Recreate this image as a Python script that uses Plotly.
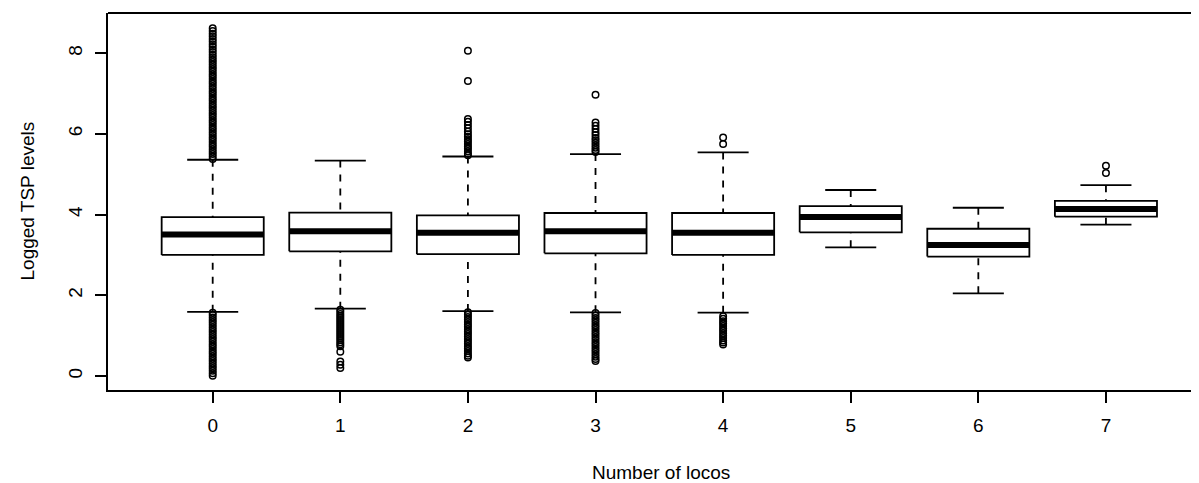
import plotly.graph_objects as go

# ---- data ----
groups = [0, 1, 2, 3, 4, 5, 6, 7]
tick_labels = ["0", "1", "2", "3", "4", "5", "6", "7"]
q1 = [3.00, 3.09, 3.02, 3.04, 3.00, 3.56, 2.96, 3.95]
median = [3.51, 3.59, 3.55, 3.59, 3.55, 3.94, 3.25, 4.14]
q3 = [3.94, 4.05, 3.98, 4.04, 4.04, 4.21, 3.65, 4.34]
lower_whisker = [1.59, 1.67, 1.61, 1.58, 1.57, 3.19, 2.05, 3.75]
upper_whisker = [5.36, 5.34, 5.44, 5.50, 5.54, 4.61, 4.17, 4.73]

out_0 = [5.38, 5.44, 5.50, 5.56, 5.62, 5.68, 5.74, 5.80, 5.86, 5.92, 5.98, 6.04, 6.10,
         6.16, 6.22, 6.28, 6.34, 6.40, 6.46, 6.52, 6.58, 6.64, 6.70, 6.76, 6.82, 6.88,
         6.94, 7.00, 7.06, 7.12, 7.18, 7.24, 7.30, 7.36, 7.42, 7.48, 7.54, 7.60, 7.66,
         7.72, 7.78, 7.84, 7.90, 7.96, 8.03, 8.09, 8.16, 8.22, 8.29, 8.35, 8.42, 8.48,
         8.55, 8.62,
         1.57, 1.51, 1.45, 1.39, 1.33, 1.27, 1.21, 1.15, 1.09, 1.03, 0.97, 0.91, 0.85,
         0.79, 0.73, 0.67, 0.61, 0.55, 0.49, 0.43, 0.37, 0.31, 0.25, 0.19, 0.13, 0.07, 0.01]
out_1 = [1.64, 1.59, 1.54, 1.49, 1.44, 1.39, 1.34, 1.29, 1.24, 1.19, 1.14, 1.09, 1.04,
         0.99, 0.94, 0.89, 0.84, 0.79, 0.74, 0.60, 0.36, 0.28, 0.20]
out_2 = [8.06, 7.31, 6.37, 6.30, 6.22, 6.14, 6.06, 5.99, 5.93, 5.87, 5.81, 5.75, 5.69,
         5.63, 5.57, 5.51, 5.47,
         1.58, 1.52, 1.46, 1.40, 1.34, 1.28, 1.22, 1.16, 1.10, 1.04, 0.98, 0.92, 0.86,
         0.80, 0.74, 0.68, 0.62, 0.56, 0.50, 0.46]
out_3 = [6.97, 6.28, 6.20, 6.12, 6.04, 5.97, 5.90, 5.84, 5.78, 5.72, 5.66, 5.60, 5.55,
         1.56, 1.50, 1.44, 1.38, 1.32, 1.26, 1.20, 1.14, 1.08, 1.02, 0.96, 0.90, 0.84,
         0.78, 0.72, 0.66, 0.60, 0.54, 0.48, 0.42, 0.37]
out_4 = [5.91, 5.75, 1.48, 1.42, 1.36, 1.30, 1.24, 1.18, 1.12, 1.06, 1.00, 0.94, 0.88,
         0.83, 0.78]
out_5 = []
out_6 = []
out_7 = [5.21, 5.03]
outliers = [out_0, out_1, out_2, out_3, out_4, out_5, out_6, out_7]

x_title = "Number of locos"
y_title = "Logged TSP levels"

# ---- styling ----
FONT = "Liberation Sans, Arial, Helvetica, sans-serif"
BOX_HALF = 0.4
CAP_HALF = 0.2
LW = 1.8

W, H = 1199, 483
L, T, B, R = 100, 5, 101, 0

box_x, box_y = [], []
med_x, med_y = [], []
wh_x, wh_y = [], []
cap_x, cap_y = [], []
ox, oy = [], []
for i, g in enumerate(groups):
    x0, x1 = g - BOX_HALF, g + BOX_HALF
    box_x += [x0, x1, x1, x0, x0, None]
    box_y += [q1[i], q1[i], q3[i], q3[i], q1[i], None]
    med_x += [x0, x1, None]
    med_y += [median[i], median[i], None]
    # whiskers drawn from the whisker end towards the box (as R does)
    wh_x += [g, g, None, g, g, None]
    wh_y += [upper_whisker[i], q3[i], None, lower_whisker[i], q1[i], None]
    cap_x += [g - CAP_HALF, g + CAP_HALF, None, g - CAP_HALF, g + CAP_HALF, None]
    cap_y += [upper_whisker[i], upper_whisker[i], None, lower_whisker[i], lower_whisker[i], None]
    for v in outliers[i]:
        ox.append(g)
        oy.append(v)

fig = go.Figure()
fig.add_trace(go.Scatter(x=wh_x, y=wh_y, mode="lines",
                         line=dict(color="black", width=1.8, dash="7px,7px"),
                         hoverinfo="skip", showlegend=False))
fig.add_trace(go.Scatter(x=cap_x, y=cap_y, mode="lines",
                         line=dict(color="black", width=LW),
                         hoverinfo="skip", showlegend=False))
fig.add_trace(go.Scatter(x=box_x, y=box_y, mode="lines", fill="toself",
                         fillcolor="white", line=dict(color="black", width=LW),
                         hoverinfo="skip", showlegend=False))
fig.add_trace(go.Scatter(x=med_x, y=med_y, mode="lines",
                         line=dict(color="black", width=6),
                         hoverinfo="skip", showlegend=False))
fig.add_trace(go.Scatter(x=ox, y=oy, mode="markers",
                         marker=dict(symbol="circle-open", size=6.5, color="black",
                                     line=dict(width=1.5, color="black")),
                         hoverinfo="skip", showlegend=False))

pw = W - L - R
ph = H - T - B

def px_to_paper_x(px):
    return (px - L) / pw

def px_to_paper_y(py):
    return (H - B - py) / ph

fig.update_layout(
    width=W, height=H,
    margin=dict(l=L, r=R, t=T, b=B, pad=0),
    paper_bgcolor="white", plot_bgcolor="white",
    font=dict(family=FONT, size=19, color="black"),
    xaxis=dict(range=[-0.8205, 7.792], tickvals=groups, ticktext=tick_labels,
               showgrid=False, zeroline=False, showline=True, linecolor="black",
               linewidth=LW, ticks="outside", ticklen=11, tickwidth=LW,
               tickcolor="black", ticklabelstandoff=6, fixedrange=True),
    yaxis=dict(range=[-0.346, 8.996], tickvals=[0, 2, 4, 6, 8],
               ticktext=["0", "2", "4", "6", "8"], tickangle=-90,
               showgrid=False, zeroline=False, showline=True, linecolor="black",
               linewidth=LW, ticks="outside", ticklen=11, tickwidth=LW,
               tickcolor="black", ticklabelstandoff=6, fixedrange=True),
    shapes=[dict(type="line", xref="paper", yref="paper", x0=0, x1=1, y0=1, y1=1,
                 line=dict(color="black", width=LW))],
    annotations=[
        dict(text=x_title, xref="paper", yref="paper",
             x=px_to_paper_x(652.7), y=px_to_paper_y(465), xanchor="center",
             yanchor="middle", showarrow=False, font=dict(family=FONT, size=19)),
        dict(text=y_title, xref="paper", yref="paper", textangle=-90,
             x=px_to_paper_x(19), y=0.5, xanchor="center", yanchor="middle",
             showarrow=False, font=dict(family=FONT, size=19)),
    ],
)

fig.write_html("out.html")
